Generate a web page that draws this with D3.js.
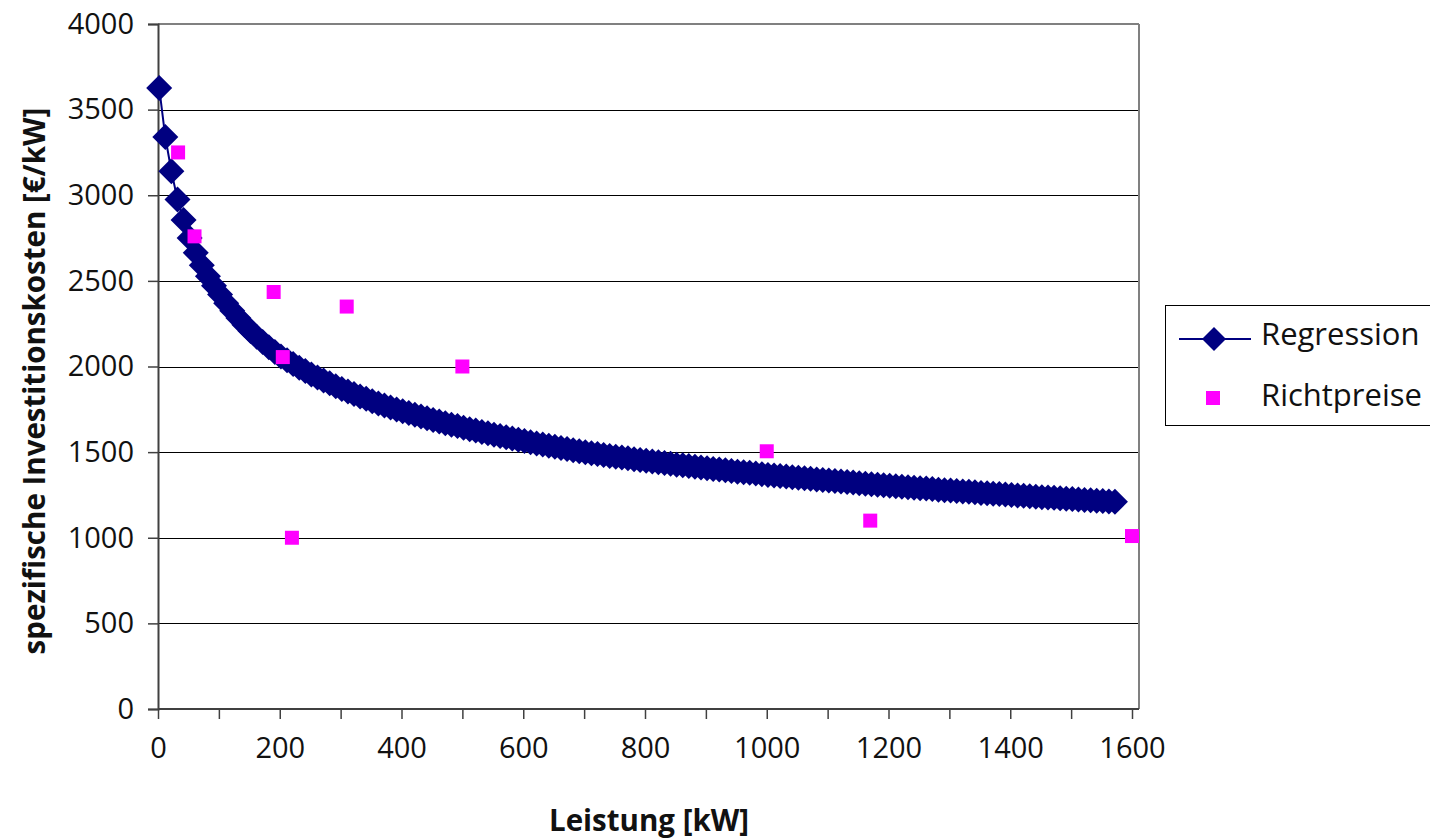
<!DOCTYPE html>
<html>
<head>
<meta charset="utf-8">
<script src="https://cdn.jsdelivr.net/npm/d3@7"></script>
<style>
  html, body { margin: 0; padding: 0; background: #fff; }
  svg { display: block; font-family: "Open Sans", "Noto Sans", sans-serif; }
</style>
</head>
<body>
<svg id="chart" width="1430" height="839"></svg>
<script>
// ---- Data ----
const regressionX = [2,12,22,32,42,52,62,72,82,92,102,112,122,132,142,152,162,172,182,192,
  202,212,222,232,242,252,262,272,282,292,302,312,322,332,342,352,362,372,382,392,
  402,412,422,432,442,452,462,472,482,492,502,512,522,532,542,552,562,572,582,592,
  602,612,622,632,642,652,662,672,682,692,702,712,722,732,742,752,762,772,782,792,
  802,812,822,832,842,852,862,872,882,892,902,912,922,932,942,952,962,972,982,992,
  1002,1012,1022,1032,1042,1052,1062,1072,1082,1092,1102,1112,1122,1132,1142,1152,1162,1172,1182,1192,
  1202,1212,1222,1232,1242,1252,1262,1272,1282,1292,1302,1312,1322,1332,1342,1352,1362,1372,1382,1392,
  1402,1412,1422,1432,1442,1452,1462,1472,1482,1492,1502,1512,1522,1532,1542,1552,1562,1572];
const regressionY = [3627,3340,3140,2975,2855,2750,2664,2591,2527,2471,2420,2370,2325,2283,2244,2208,2174,2143,2113,2084,
  2058,2036,2014,1993,1973,1954,1936,1918,1902,1885,1869,1854,1839,1825,1811,1797,1784,1772,1760,1749,
  1738,1728,1718,1708,1698,1688,1679,1669,1660,1652,1643,1634,1626,1618,1610,1602,1594,1587,1579,1572,
  1565,1558,1551,1544,1537,1531,1524,1518,1511,1505,1499,1494,1489,1483,1478,1473,1469,1464,1459,1454,
  1450,1445,1441,1436,1432,1427,1423,1419,1414,1410,1406,1402,1398,1394,1390,1386,1382,1379,1375,1371,
  1367,1364,1360,1357,1354,1350,1347,1344,1340,1337,1334,1331,1328,1325,1322,1318,1315,1312,1309,1307,
  1304,1301,1298,1295,1292,1289,1287,1284,1281,1278,1276,1273,1270,1268,1265,1262,1260,1257,1255,1252,
  1250,1247,1245,1242,1240,1237,1235,1233,1230,1228,1226,1223,1221,1219,1216,1214,1212,1210];

const richtX = [33, 60, 190, 205, 220, 310, 500, 1000, 1170, 1600];
const richtY = [3250, 2760, 2435, 2055, 1000, 2350, 2000, 1505, 1100, 1010];

const xTicks = [0,100,200,300,400,500,600,700,800,900,1000,1100,1200,1300,1400,1500,1600];
const xTickLabels = [0,200,400,600,800,1000,1200,1400,1600];
const yTicks = [0,500,1000,1500,2000,2500,3000,3500,4000];

const seriesNames = ["Regression", "Richtpreise"];
const xTitle = "Leistung [kW]";
const yTitle = "spezifische Investitionskosten [€/kW]";

// ---- Scales ----
const svg = d3.select("#chart");
const x = d3.scaleLinear().domain([0, 1600]).range([158, 1132]);
const y = d3.scaleLinear().domain([0, 4000]).range([709, 24]);
const plotRight = 1139;

const navy = "#000080";
const magenta = "#FF00FF";

// gridlines
svg.append("g").selectAll("line")
  .data(yTicks.filter(d => d > 0 && d < 4000))
  .join("line")
  .attr("x1", x(0)).attr("x2", plotRight)
  .attr("y1", d => Math.round(y(d)) + 0.5).attr("y2", d => Math.round(y(d)) + 0.5)
  .attr("stroke", "#000").attr("stroke-width", 1.2);

// plot border top and right (gray)
svg.append("line")
  .attr("x1", x(0)).attr("x2", plotRight)
  .attr("y1", y(4000)).attr("y2", y(4000))
  .attr("stroke", "#808080").attr("stroke-width", 2);
svg.append("line")
  .attr("x1", plotRight).attr("x2", plotRight)
  .attr("y1", y(4000)).attr("y2", y(0))
  .attr("stroke", "#808080").attr("stroke-width", 2);

// y axis
const yAxis = d3.axisLeft(y).tickValues(yTicks).tickSize(10).tickPadding(14)
  .tickFormat(d3.format("d"));
const gy = svg.append("g").attr("transform", `translate(${x(0)},0)`).call(yAxis);
gy.select(".domain").attr("stroke", "#404040").attr("stroke-width", 2);
gy.selectAll(".tick line").attr("stroke", "#404040").attr("stroke-width", 1.5);
gy.selectAll(".tick text").attr("font-size", 29).attr("fill", "#111")
  .attr("font-family", "'Open Sans', sans-serif");

// x axis
const xAxis = d3.axisBottom(x).tickValues(xTicks).tickSize(10).tickPadding(18)
  .tickFormat(d => xTickLabels.includes(d) ? d3.format("d")(d) : "");
const gx = svg.append("g").attr("transform", `translate(0,${y(0)})`).call(xAxis);
gx.select(".domain").attr("stroke", "#404040").attr("stroke-width", 2)
  .attr("d", `M${x(0)},0H${plotRight}`);
gx.selectAll(".tick line").attr("stroke", "#404040").attr("stroke-width", 1.5);
gx.selectAll(".tick text").attr("font-size", 29).attr("fill", "#111")
  .attr("font-family", "'Open Sans', sans-serif");

// regression line
const reg = regressionX.map((d, i) => ({ x: d, y: regressionY[i] }));
svg.append("path")
  .datum(reg)
  .attr("fill", "none").attr("stroke", navy).attr("stroke-width", 2)
  .attr("d", d3.line().x(d => x(d.x)).y(d => y(d.y)));

const diamond = "M0,-13L13,0L0,13L-13,0Z";
svg.append("g").selectAll("path")
  .data(reg)
  .join("path")
  .attr("d", diamond)
  .attr("transform", d => `translate(${x(d.x)},${y(d.y)})`)
  .attr("fill", navy);

// Richtpreise squares
const rp = richtX.map((d, i) => ({ x: d, y: richtY[i] }));
svg.append("g").selectAll("rect")
  .data(rp)
  .join("rect")
  .attr("x", d => x(d.x) - 7).attr("y", d => y(d.y) - 7)
  .attr("width", 14).attr("height", 14)
  .attr("fill", magenta);

// axis titles
svg.append("text")
  .attr("x", 649).attr("y", 831)
  .attr("text-anchor", "middle")
  .attr("font-size", 29.5).attr("font-weight", "bold").attr("fill", "#111")
  .text(xTitle);
svg.append("text")
  .attr("transform", "translate(45,381) rotate(-90)")
  .attr("text-anchor", "middle")
  .attr("font-size", 29.5).attr("font-weight", "bold").attr("fill", "#111")
  .text(yTitle);

// legend
const lg = svg.append("g");
lg.append("rect")
  .attr("x", 1165.5).attr("y", 305.5).attr("width", 300).attr("height", 120)
  .attr("fill", "#fff").attr("stroke", "#000").attr("stroke-width", 1);
lg.append("line")
  .attr("x1", 1179).attr("x2", 1251).attr("y1", 339).attr("y2", 339)
  .attr("stroke", navy).attr("stroke-width", 2);
lg.append("path")
  .attr("d", "M0,-12L12,0L0,12L-12,0Z")
  .attr("transform", "translate(1214,339)")
  .attr("fill", navy);
lg.append("rect")
  .attr("x", 1206).attr("y", 391).attr("width", 14).attr("height", 14)
  .attr("fill", magenta);
lg.append("text")
  .attr("x", 1261).attr("y", 345)
  .attr("font-size", 31).attr("fill", "#111")
  .text(seriesNames[0]);
lg.append("text")
  .attr("x", 1261).attr("y", 406)
  .attr("font-size", 31).attr("fill", "#111")
  .text(seriesNames[1]);
</script>
</body>
</html>
